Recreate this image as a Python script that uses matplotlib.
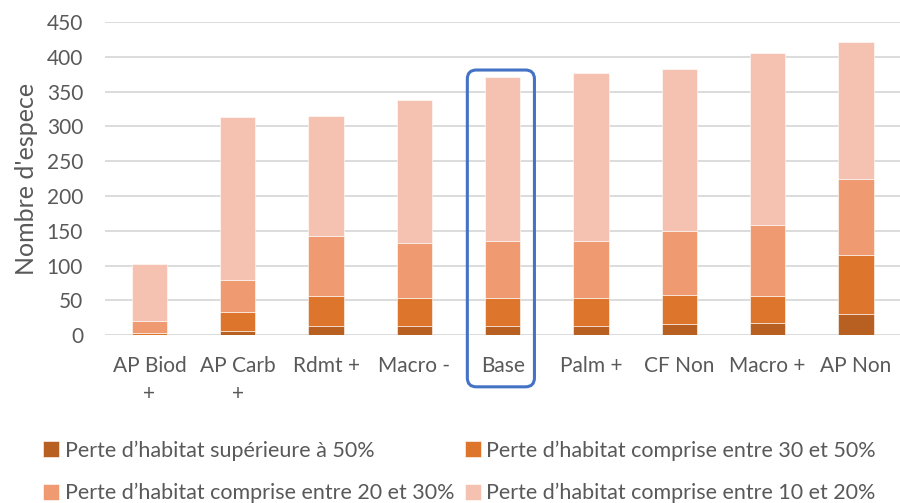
import numpy as np
import matplotlib
matplotlib.use("Agg")
import matplotlib.pyplot as plt
from matplotlib.patches import FancyBboxPatch
from matplotlib.transforms import IdentityTransform

plt.rcParams['font.family'] = ['Lato', 'DejaVu Sans']

# données (nombre d'espèces par classe de perte d'habitat)
categories = ["AP Biod\n+", "AP Carb\n+", "Rdmt +", "Macro -", "Base",
              "Palm +", "CF Non", "Macro +", "AP Non"]
perte_sup50 = [1, 6, 14, 14, 14, 14, 16, 17, 31]
perte_30_50 = [3, 27, 42, 39, 40, 40, 42, 40, 85]
perte_20_30 = [17, 47, 87, 80, 81, 81, 92, 101, 109]
perte_10_20 = [81, 233, 172, 205, 236, 242, 233, 247, 196]

series = [
    ("Perte d\u2019habitat supérieure à 50%", perte_sup50, "#B86022"),
    ("Perte d\u2019habitat comprise entre 30 et 50%", perte_30_50, "#DE752C"),
    ("Perte d\u2019habitat comprise entre 20 et 30%", perte_20_30, "#EF9A70"),
    ("Perte d\u2019habitat comprise entre 10 et 20%", perte_10_20, "#F5C2B1"),
]

fig = plt.figure(figsize=(9, 5.03), dpi=100)
ax = fig.add_axes([0.117, 0.3334, 0.883, 0.6229])

x = np.arange(len(categories))
bottom = np.zeros(len(categories))
handles = []
for label, vals, col in series:
    b = ax.bar(x, vals, width=0.4, bottom=bottom, color=col, label=label,
               edgecolor="white", linewidth=0.4)
    handles.append(b)
    bottom += np.array(vals)

ax.set_xlim(-0.5, len(categories) - 0.5)
ax.set_ylim(0, 450)
ax.set_yticks(np.arange(0, 451, 50))
ax.set_xticks(x)
ax.set_xticklabels(categories, fontsize=15, color="#595959", linespacing=1.5)
ax.tick_params(axis="y", labelsize=15, labelcolor="#595959", length=0, pad=16)
ax.tick_params(axis="x", length=0, pad=15)
ax.yaxis.grid(True, color="#D9D9D9", linewidth=1.3)
ax.set_axisbelow(True)
for s in ax.spines.values():
    s.set_visible(False)
ax.set_ylabel("Nombre d'espece", fontsize=18, color="#595959", labelpad=6)

# légende en 2 colonnes, ordre par ligne comme dans Excel
order = [0, 2, 1, 3]
leg = fig.legend([handles[i] for i in order], [series[i][0] for i in order],
                 ncol=2, loc="center left", bbox_to_anchor=(0.036, 0.062),
                 frameon=False, fontsize=15.5, labelcolor="#595959",
                 handlelength=0.75, handleheight=0.75, handletextpad=0.25,
                 columnspacing=0.5, labelspacing=1.05, borderpad=0)

# cadre arrondi autour du scénario de base
fig.canvas.draw()
i_base = categories.index("Base")
tot = bottom[i_base]
x0, y0 = ax.transData.transform((i_base - 0.4, -74))
x1, y1 = ax.transData.transform((i_base + 0.36, tot + 10))
box = FancyBboxPatch((x0, y0), x1 - x0, y1 - y0,
                     boxstyle="round,pad=0,rounding_size=9",
                     transform=IdentityTransform(), fill=False,
                     edgecolor="#4472C4", linewidth=2.2)
fig.patches.append(box)

fig.savefig("out.png", dpi=100)
